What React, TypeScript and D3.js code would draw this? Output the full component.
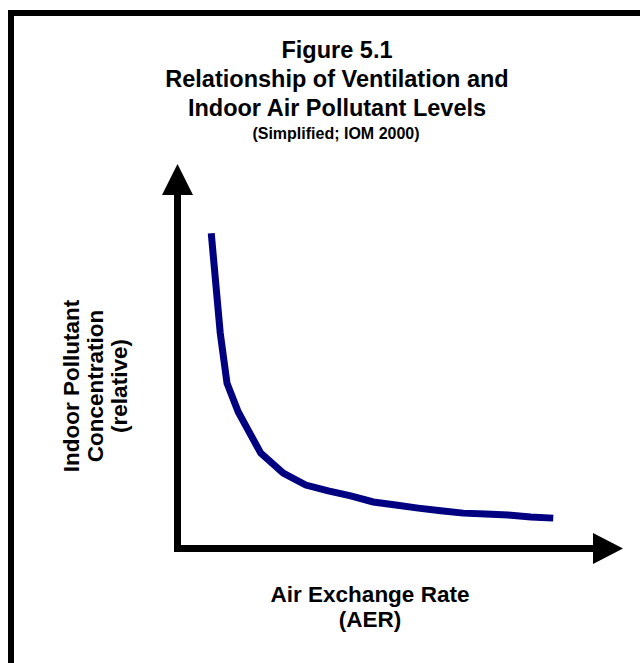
import { useEffect, useRef } from "react";
import * as d3 from "d3";

// Simplified relationship: relative AER vs. relative indoor concentration
const AER = [1.5, 1.9, 2.2, 2.7, 3.7, 4.7, 5.7, 6.7, 7.7, 8.7, 9.7, 10.7, 11.7, 12.7, 13.7, 14.7, 15.7, 16.7];
const CONC = [0.82, 0.56, 0.43, 0.355, 0.248, 0.196, 0.165, 0.15, 0.137, 0.121, 0.113, 0.105, 0.098, 0.092, 0.09, 0.087, 0.082, 0.079];

const TITLE_LINES = ["Figure 5.1", "Relationship of Ventilation and", "Indoor Air Pollutant Levels"];
const SUBTITLE = "(Simplified; IOM 2000)";
const X_LABEL = ["Air Exchange Rate", "(AER)"];
const Y_LABEL = ["Indoor Pollutant", "Concentration", "(relative)"];

const W = 640;
const H = 663;
const FONT = "'Liberation Sans', Arial, Helvetica, sans-serif";

export default function App() {
  const svgRef = useRef<SVGSVGElement>(null);

  useEffect(() => {
    if (!svgRef.current) return;
    const svg = d3.select(svgRef.current);
    svg.selectAll("*").remove();

    const x = d3.scaleLinear().domain([0, 19.8]).range([177.5, 623]);
    const y = d3.scaleLinear().domain([0, 1]).range([548.5, 164]);
    const arrow = 31;

    // outer frame (runs off the right and bottom edges)
    svg
      .append("rect")
      .attr("x", 11)
      .attr("y", 13)
      .attr("width", 800)
      .attr("height", 800)
      .attr("fill", "none")
      .attr("stroke", "#000")
      .attr("stroke-width", 6);

    // title
    const title = svg
      .append("g")
      .attr("font-family", FONT)
      .attr("font-weight", "bold")
      .attr("text-anchor", "middle")
      .attr("fill", "#000");
    TITLE_LINES.forEach((t, i) => {
      title
        .append("text")
        .attr("x", 337)
        .attr("y", 58 + i * 29)
        .attr("font-size", 23.5)
        .text(t);
    });
    title.append("text").attr("x", 336).attr("y", 139).attr("font-size", 16).text(SUBTITLE);

    // axes with arrow heads
    const [x0, x1] = x.range();
    const [y0, y1] = y.range();
    const axes = svg.append("g");
    axes
      .append("line")
      .attr("x1", x0)
      .attr("x2", x0)
      .attr("y1", y1 + arrow)
      .attr("y2", y0 + 3.5)
      .attr("stroke", "#000")
      .attr("stroke-width", 7);
    axes
      .append("line")
      .attr("x1", x0 - 3.5)
      .attr("x2", x1 - arrow + 1)
      .attr("y1", y0)
      .attr("y2", y0)
      .attr("stroke", "#000")
      .attr("stroke-width", 7);
    axes
      .append("path")
      .attr("d", `M${x0},${y1}L${x0 - 15.5},${y1 + arrow}L${x0 + 15.5},${y1 + arrow}Z`)
      .attr("fill", "#000");
    axes
      .append("path")
      .attr("d", `M${x1},${y0}L${x1 - 30},${y0 - 15.5}L${x1 - 30},${y0 + 15.5}Z`)
      .attr("fill", "#000");

    // curve
    const pts: [number, number][] = AER.map((a, i) => [a, CONC[i]]);
    const line = d3
      .line<[number, number]>()
      .x((d) => x(d[0]))
      .y((d) => y(d[1]));
    svg
      .append("path")
      .datum(pts)
      .attr("d", line)
      .attr("fill", "none")
      .attr("stroke", "#000080")
      .attr("stroke-width", 7)
      .attr("stroke-linejoin", "miter");

    // axis labels
    const labels = svg
      .append("g")
      .attr("font-family", FONT)
      .attr("font-weight", "bold")
      .attr("font-size", 22.5)
      .attr("text-anchor", "middle")
      .attr("fill", "#000");
    X_LABEL.forEach((t, i) => {
      labels
        .append("text")
        .attr("x", 370)
        .attr("y", 602 + i * 25)
        .text(t);
    });
    Y_LABEL.forEach((t, i) => {
      const bx = 79 + i * 24;
      labels
        .append("text")
        .attr("transform", `translate(${bx},386) rotate(-90)`)
        .text(t);
    });
  }, []);

  return (
    <svg
      ref={svgRef}
      width={W}
      height={H}
      style={{ position: "absolute", left: 0, top: 0, background: "#fff" }}
    />
  );
}
